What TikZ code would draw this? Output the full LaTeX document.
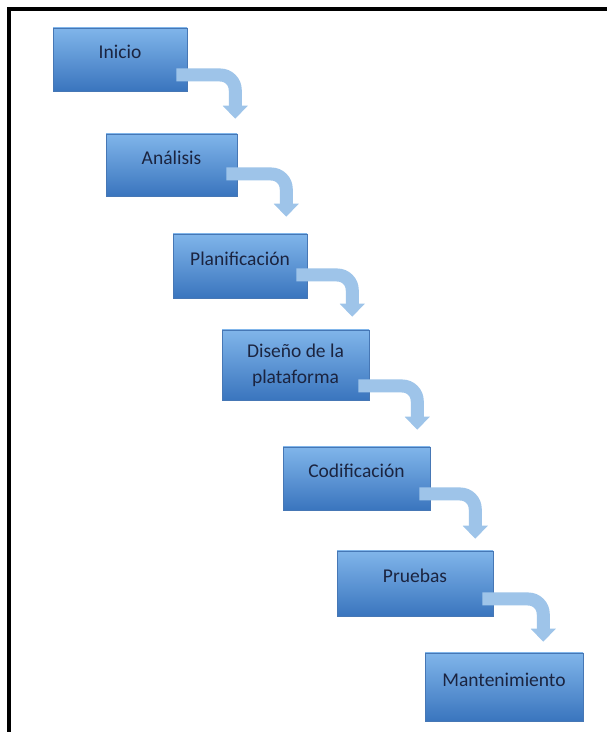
\documentclass[tikz,border=0pt]{standalone}
\usepackage{fontspec}
\setmainfont{Carlito}
\usetikzlibrary{calc}
\definecolor{boxtop}{HTML}{80B5EA}
\definecolor{boxbot}{HTML}{3A75BE}
\definecolor{boxedge}{HTML}{4677B5}
\definecolor{arrowcol}{HTML}{9EC4E9}
\definecolor{txt}{HTML}{1B2440}
\begin{document}
\begin{tikzpicture}[x=1pt,y=1pt,
  stage/.style={rectangle, top color=boxtop, bottom color=boxbot, draw=boxedge,
    line width=0.5pt, text=txt, font=\fontsize{19.5}{26}\selectfont, inner sep=0pt},
  oneline/.style={text height=7pt, text depth=8.4pt},
  band/.style={draw=arrowcol, line width=13pt, rounded corners=15pt},
  head/.style={fill=arrowcol}]
\useasboundingbox (0,0) rectangle (607,732);
\fill[white] (0,0) rectangle (607,732);
\draw[line width=4pt, line join=miter] (9,0) -- (9,723) -- (607,723);

\node[stage, oneline, minimum width=134pt, minimum height=63pt] (n1) at (120,672.5) {Inicio};
\node[stage, oneline, minimum width=131pt, minimum height=62pt] (n2) at (171.5,567) {Análisis};
\node[stage, oneline, minimum width=134pt, minimum height=64pt] (n3) at (240,466) {Planificación};
\node[stage, align=center, minimum width=147pt, minimum height=70pt] (n4) at (295.5,367) {Diseño de la\\plataforma};
\node[stage, oneline, minimum width=147pt, minimum height=63pt] (n5) at (356.5,253.5) {Codificación};
\node[stage, oneline, minimum width=156pt, minimum height=65pt] (n6) at (415,148.5) {Pruebas};
\node[stage, oneline, minimum width=158pt, minimum height=68pt] (n7) at (504,45) {Mantenimiento};

% arrows: start inside source box, bend down, head above next box
\foreach \a/\b/\dy/\vx/\gap in {n1/n2/15.5/48/15, n2/n3/9/49/17, n3/n4/9/45/13, n4/n5/21/48/17, n5/n6/15.5/45/12, n6/n7/15.5/50/11}{
  \path let \p1=(\a.east), \p2=(\b.north) in
    coordinate (s-\a) at (\x1-11pt, \y1-\dy pt)
    coordinate (h-\a) at (\x1+\vx pt, \y2+\gap pt+13pt)
    coordinate (t-\a) at (\x1+\vx pt, \y2+\gap pt);
  \draw[band] (s-\a) -| ([yshift=-0.5pt]h-\a);
  \fill[head] ([xshift=-12.5pt]h-\a) -- ([xshift=12.5pt]h-\a) -- (t-\a) -- cycle;
}
\end{tikzpicture}
\end{document}
